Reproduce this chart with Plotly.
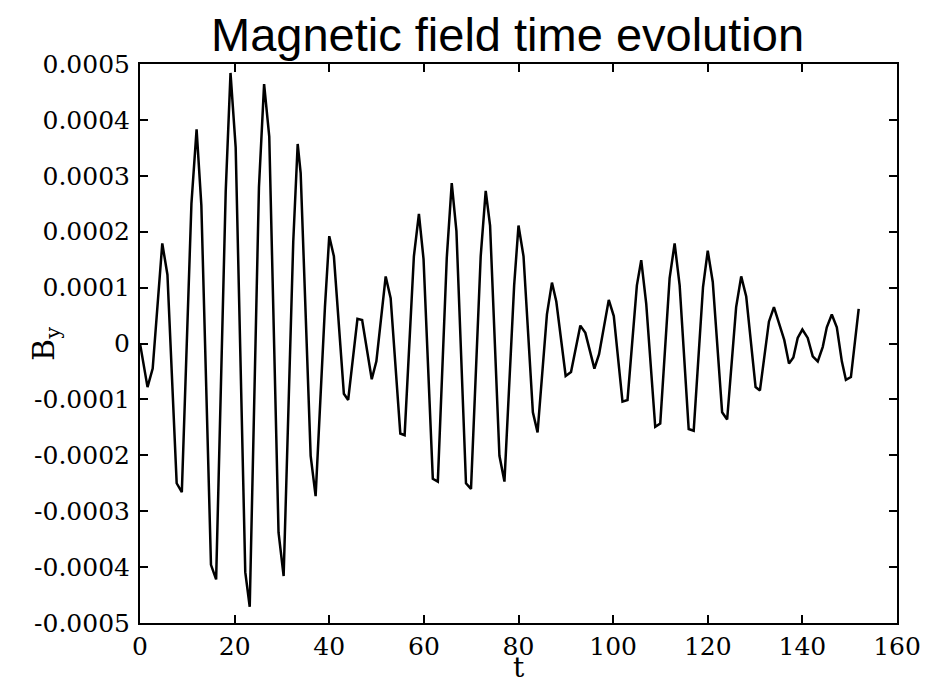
import plotly.graph_objects as go

# Sample times (t) and magnetic field B_y values (in units of 1e-4)
t_vals = [0.0, 1.59, 2.68, 4.71, 5.80, 7.75, 8.84, 10.87, 11.96, 12.97, 15.0, 16.09,
          18.12, 19.13, 20.22, 22.25, 23.19, 25.14, 26.23, 27.32, 29.28, 30.36, 32.39, 33.33,
          33.96, 36.07, 37.12, 39.09, 40.0, 40.98, 43.09, 44.0, 45.96, 46.95, 48.98, 49.96,
          51.93, 52.98, 55.02, 55.93, 57.89, 58.95, 59.93, 61.89, 62.95, 64.84, 65.89, 66.88,
          68.90, 69.96, 72.01, 73.07, 73.99, 75.97, 77.03, 79.08, 80.0, 81.06, 83.04, 84.03,
          86.01, 87.07, 87.99, 89.97, 91.1, 93.07, 94.13, 96.04, 97.03, 99.08, 100.14,
          101.98, 103.04, 105.02, 105.94, 107.0, 108.9, 109.96, 111.94, 113.0, 114.06, 115.97,
          117.03, 119.0, 120.0, 121.06, 123.04, 124.1, 126.0, 127.07, 128.13, 130.11, 131.03,
          132.93, 133.99, 136.18, 137.17, 138.09, 139.01, 140.0, 141.13, 142.19, 143.25,
          144.31, 145.16, 146.22, 147.28, 148.34, 149.2, 150.26, 151.9]
by_e4 = [0.0, -0.78, -0.45, 1.79, 1.23, -2.50, -2.66, 2.50, 3.83, 2.47, -3.96, -4.22,
         2.73, 4.84, 3.51, -4.09, -4.71, 2.79, 4.64, 3.70, -3.38, -4.16, 1.82, 3.57,
         3.05, -2.01, -2.73, 0.65, 1.92, 1.56, -0.90, -1.01, 0.44, 0.42, -0.64, -0.32,
         1.20, 0.81, -1.61, -1.64, 1.56, 2.32, 1.51, -2.42, -2.47, 1.53, 2.87, 2.01,
         -2.50, -2.60, 1.56, 2.73, 2.11, -2.01, -2.47, 1.04, 2.11, 1.56, -1.23, -1.59,
         0.52, 1.09, 0.75, -0.58, -0.51, 0.32, 0.19, -0.45, -0.19, 0.78, 0.49,
         -1.04, -1.01, 1.04, 1.49, 0.71, -1.49, -1.43, 1.17, 1.79, 1.04, -1.53,
         -1.56, 1.01, 1.66, 1.10, -1.23, -1.36, 0.65, 1.20, 0.84, -0.78, -0.84,
         0.39, 0.65, 0.06, -0.36, -0.25, 0.10, 0.25, 0.10, -0.23, -0.32,
         -0.06, 0.29, 0.52, 0.29, -0.32, -0.65, -0.60, 0.62]
b_y = [v * 1e-4 for v in by_e4]

x_tick_vals = [0, 20, 40, 60, 80, 100, 120, 140, 160]
x_tick_text = ["0", "20", "40", "60", "80", "100", "120", "140", "160"]
y_tick_vals = [-0.0005, -0.0004, -0.0003, -0.0002, -0.0001, 0.0, 0.0001, 0.0002, 0.0003, 0.0004, 0.0005]
y_tick_text = ["-0.0005", "-0.0004", "-0.0003", "-0.0002", "-0.0001", "0",
               "0.0001", "0.0002", "0.0003", "0.0004", "0.0005"]

title_text = "Magnetic field time evolution"
x_title = "t"
y_title = "B<sub>y</sub>"

serif = "DejaVu Serif, serif"
sans = "Liberation Sans, Arial, sans-serif"

fig = go.Figure()
fig.add_trace(go.Scatter(x=t_vals, y=b_y, mode="lines",
                         line=dict(color="black", width=2.5), showlegend=False,
                         hoverinfo="skip"))

axis_common = dict(showline=True, linecolor="black", linewidth=2, mirror="ticks",
                   ticks="inside", ticklen=8, tickwidth=1.5, tickcolor="black",
                   showgrid=False, zeroline=False,
                   tickfont=dict(family=serif, size=25, color="black"))

fig.update_xaxes(range=[0, 160], tickvals=x_tick_vals, ticktext=x_tick_text, **axis_common)
fig.update_yaxes(range=[-0.0005, 0.0005], tickvals=y_tick_vals, ticktext=y_tick_text,
                 ticklabelstandoff=3, **axis_common)

# page body has an 8px margin, so the figure is sized to fit the 944x683 window
fig.update_layout(
    width=936, height=675,
    margin=dict(l=132, r=47, t=56, b=60),
    plot_bgcolor="white", paper_bgcolor="white",
    annotations=[
        dict(text=title_text, xref="paper", yref="paper", x=0.486, y=1.0, yshift=2,
             xanchor="center", yanchor="bottom", showarrow=False, borderpad=0,
             font=dict(family=sans, size=47, color="black")),
        dict(text=x_title, xref="paper", yref="paper", x=0.5, y=0, yshift=-44,
             xanchor="center", yanchor="middle", showarrow=False, borderpad=0,
             font=dict(family=serif, size=28, color="black")),
        dict(text=y_title, xref="paper", yref="paper", x=-0.125, y=0.5,
             xanchor="center", yanchor="middle", showarrow=False, textangle=-90,
             font=dict(family=serif, size=30, color="black")),
    ],
)

fig.write_html("out.html")
